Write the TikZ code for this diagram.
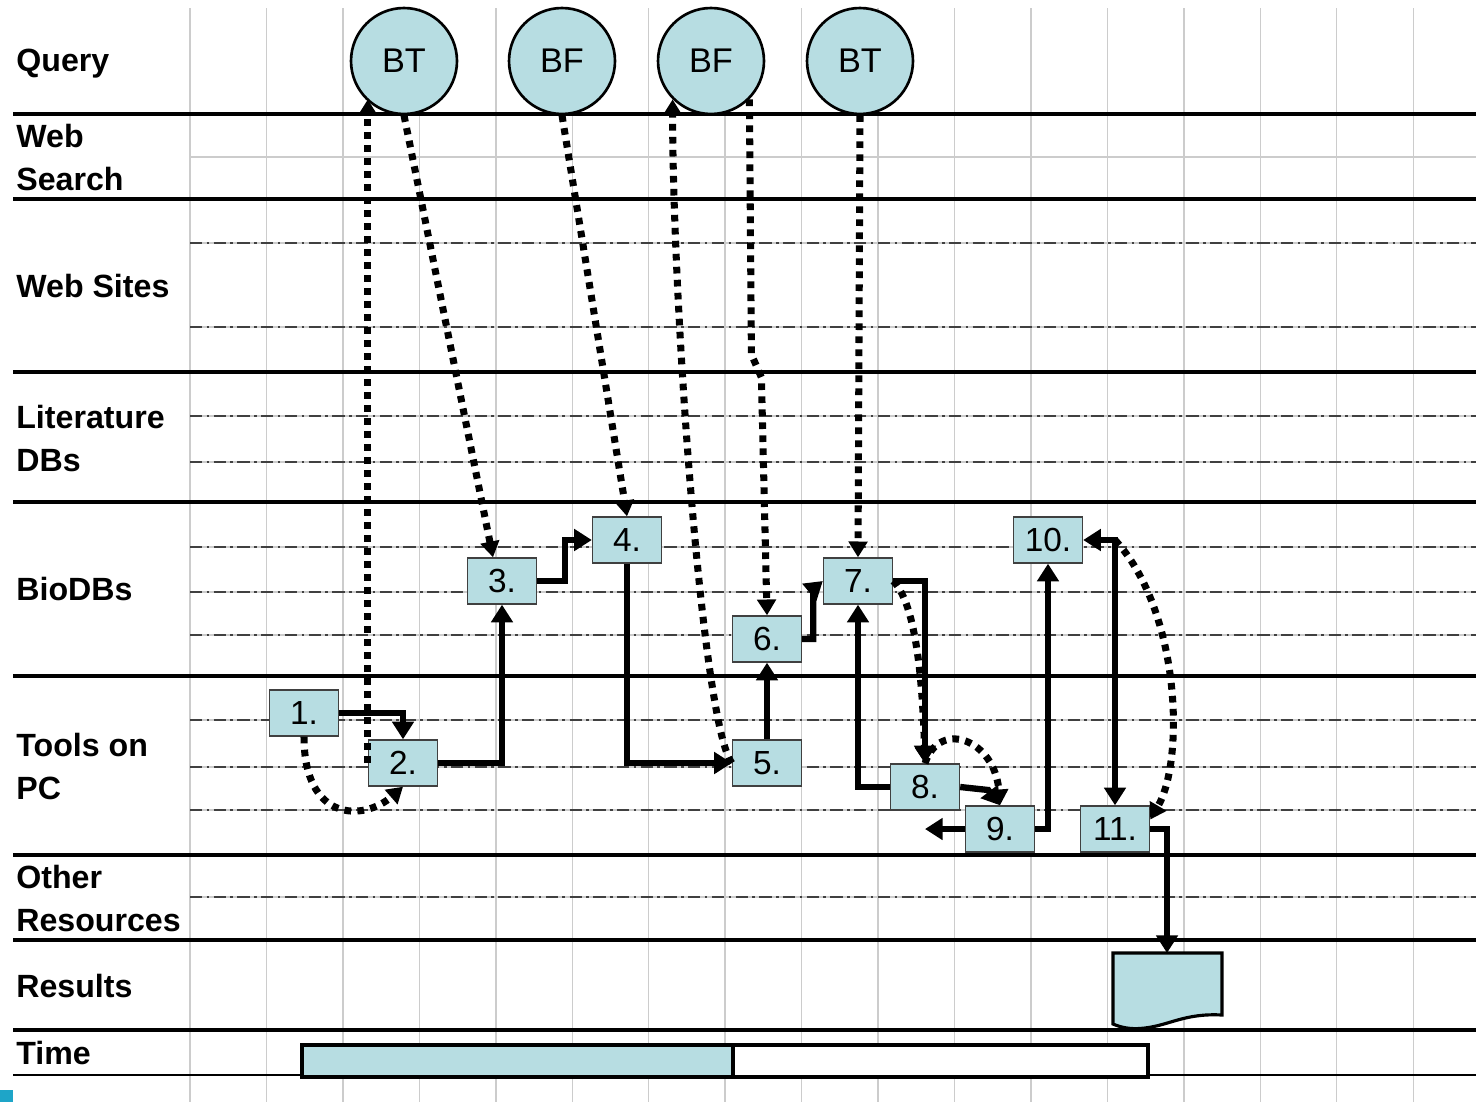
\documentclass[tikz,border=0pt]{standalone}
\usepackage{fontspec}
\setmainfont{Liberation Sans}
\usetikzlibrary{arrows.meta}
\definecolor{boxblue}{HTML}{B7DDE2}
\definecolor{gridgray}{HTML}{CCCCCC}
\definecolor{dashgray}{HTML}{404040}
\definecolor{cornerblue}{HTML}{1EA5C8}
\begin{document}
\begin{tikzpicture}[x=0.02cm,y=-0.02cm,
  flowtip/.tip={Triangle[length=10pt,width=12pt]},
  hoptip/.tip={Triangle[length=9pt,width=10.5pt]},
  lane/.style={line width=2.2pt},
  sublane/.style={dashgray, line width=1.1pt, dash pattern=on 7pt off 2.5pt on 1.5pt off 2.5pt},
  gridline/.style={gridgray, line width=0.8pt},
  lbl/.style={font=\fontsize{18.3}{24.6}\selectfont\bfseries, anchor=base west, inner sep=0, align=left},
  qnode/.style={circle, draw=black, line width=1.5pt, fill=boxblue, minimum size=2.12cm, inner sep=0, font=\fontsize{19.5}{20}\selectfont},
  stepbox/.style={draw=black!75, line width=0.8pt, fill=boxblue, minimum width=1.38cm, minimum height=0.92cm, inner sep=0, font=\fontsize{19}{20}\selectfont},
  flow/.style={line width=3.6pt, -flowtip},
  hop/.style={line width=4pt, dash pattern=on 3.8pt off 3.6pt, -hoptip},
  paper/.style={line width=1.8pt, fill=boxblue},
]
\useasboundingbox (0,0) rectangle (1476,1102);
% grid
\foreach \i in {0,...,16} \draw[gridline] ({190+76.45*\i},8) -- ({190+76.45*\i},1102);
\foreach \y in {157,243,327,416,462,547,592,635,720,767,810,897} \draw[gridline] (190,\y) -- (1476,\y);
\foreach \y in {243,327,416,462,547,592,635,720,767,810,897} \draw[sublane] (190,\y) -- (1476,\y);
\foreach \y in {114,199,372,502,676,855,940,1030} \draw[lane] (13,\y) -- (1476,\y);
\draw[line width=1.3pt] (13,1075) -- (1476,1075);
\fill[cornerblue] (0,1090) rectangle (13,1102);
% labels (base anchor = baseline of the last line)
\node[lbl] (lq) at (16,71.5) {Query};
\node[lbl] (lws) at (16,190.5) {Web\\Search};
\node[lbl] (lsites) at (16,297.5) {Web Sites};
\node[lbl] (llit) at (16,471.5) {Literature\\DBs};
\node[lbl] (lbio) at (16,600.5) {BioDBs};
\node[lbl] (ltools) at (16,799.5) {Tools on\\PC};
\node[lbl] (lother) at (16,931.5) {Other\\Resources};
\node[lbl] (lres) at (16,997.5) {Results};
\node[lbl] (ltime) at (16,1064.5) {Time};
% queries
\node[qnode] (q1) at (404,61) {BT};
\node[qnode] (q2) at (562,61) {BF};
\node[qnode] (q3) at (711,61) {BF};
\node[qnode] (q4) at (860,61) {BT};
% steps
\node[stepbox] (b1) at (304,713) {1.};
\node[stepbox] (b2) at (403,763) {2.};
\node[stepbox] (b3) at (502,581) {3.};
\node[stepbox] (b4) at (627,540) {4.};
\node[stepbox] (b5) at (767,763) {5.};
\node[stepbox] (b6) at (767,639) {6.};
\node[stepbox] (b7) at (858,581) {7.};
\node[stepbox] (b8) at (925,787) {8.};
\node[stepbox] (b9) at (1000,829) {9.};
\node[stepbox] (b10) at (1048,540) {10.};
\node[stepbox] (b11) at (1115,829) {11.};
% result document
\draw[paper] (1113,953) -- (1222,953) -- (1222,1015) .. controls (1185,1013) and (1170,1025) .. (1145,1028) .. controls (1130,1030) and (1120,1027) .. (1113,1024) -- cycle;
\coordinate (doctop) at (1167,953);
% time bar
\draw[paper] (302,1045) rectangle (733,1077);
\draw[line width=1.8pt, fill=white] (733,1045) rectangle (1148,1077);
% solid flows
\draw[flow] (b1.east) -| (b2.north);
\draw[flow] (b2.east) -| (b3.south);
\draw[flow] (b3.east) -- ++(28,0) |- (b4.west);
\draw[flow] (b4.south) |- (b5.west);
\draw[flow] (b5.north) -- (b6.south);
\draw[flow] (b6.east) -- ++(11,0) -- ++(0,-50) -- (b7.west);
\draw[flow] (b7.east) -| (b8.north);
\draw[flow] (b8.west) -| (b7.south);
\draw[flow] (b8.east) -- ++(28,3) -- (b9.north);
\draw[flow] (b9.west) -- (b9.west -| b8.south);
\draw[flow] (b9.east) -| (b10.south);
\draw[flow, flowtip-flowtip] (b10.east) -| (b11.north);
\draw[flow] (b11.east) -| (doctop);
% dotted hops
\draw[hop] (b1.south) .. controls +(0,85) and +(-40,35) .. (b2.south);
\draw[hop] (b2.west) -- (b2.west |- q1.225);
\draw[hop] (q1.south) -- ([xshift=-0.18cm]b3.north);
\draw[hop] (q2.south) -- (b4.north);
\draw[hop] (b5.west) .. controls +(-30,-40) and +(0,200) .. (q3.225);
\draw[hop] (q3.-45) -- ++(2,255) -- ++(10,23) -- (b6.north);
\draw[hop] (q4.south) -- (b7.north);
\draw[hop] (b7.east) .. controls +(20,20) and +(-3,-100) .. (b8.north);
\draw[hop] (b8.north) .. controls +(15,-45) and +(-5,-65) .. (b9.north);
\coordinate (c1011) at (b10.east -| b11.north);
\draw[hop] (c1011) .. controls +(65,70) and +(35,-60) .. (b11.15);
\end{tikzpicture}
\end{document}
